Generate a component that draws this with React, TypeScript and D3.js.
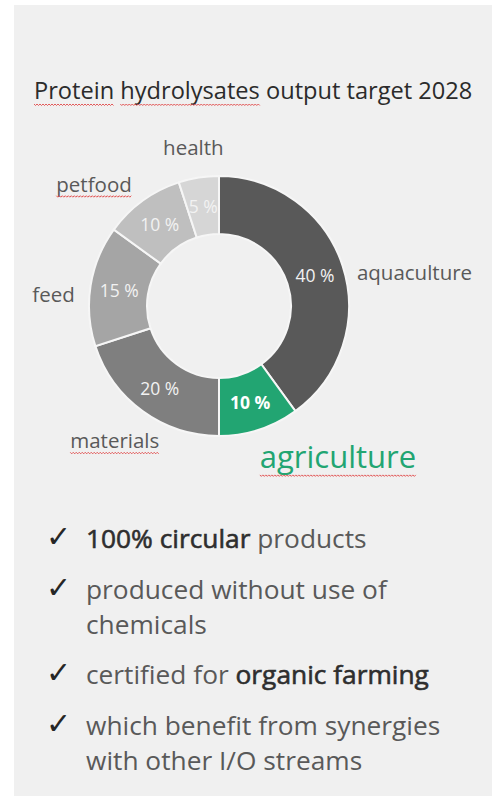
import React, { useEffect, useRef } from 'react';
import * as d3 from 'd3';

const categories = ['aquaculture', 'agriculture', 'materials', 'feed', 'petfood', 'health'];
const shares = [40, 10, 20, 15, 10, 5];
const sliceColors = ['#595959', '#22a572', '#7f7f7f', '#a5a5a5', '#bfbfbf', '#d6d6d6'];
const chartTitle = ['Protein', 'hydrolysates', 'output target 2028'];
const bulletLines = [
  [[{ t: '100% circular', b: true }, { t: ' products', b: false }]],
  [[{ t: 'produced without use of', b: false }], [{ t: 'chemicals', b: false }]],
  [[{ t: 'certified for ', b: false }, { t: 'organic farming', b: true }]],
  [[{ t: 'which benefit from synergies', b: false }], [{ t: 'with other I/O streams', b: false }]],
];

const W = 492;
const H = 796;
const FONT = "'Open Sans', 'Noto Sans', sans-serif";
const cx = 219;
const cy = 306;
const rOuter = 130;
const rInner = 72;
const rLabel = 145;

// label layout (style, not data)
const labelLayout: Record<string, { anchor: string; dx: number; dy: number; size: number; color: string; spell?: boolean }> = {
  aquaculture: { anchor: 'start', dx: 0, dy: 19, size: 20.5, color: '#595959' },
  agriculture: { anchor: 'start', dx: -4, dy: 24, size: 31, color: '#22a572', spell: true },
  materials: { anchor: 'middle', dx: -19, dy: 25, size: 20.5, color: '#595959', spell: true },
  feed: { anchor: 'end', dx: -1, dy: 19, size: 20.5, color: '#595959' },
  petfood: { anchor: 'end', dx: -2, dy: 3, size: 20.5, color: '#595959', spell: true },
  health: { anchor: 'middle', dx: -3, dy: -8, size: 20.5, color: '#595959' },
};

export default function App() {
  const svgRef = useRef<SVGSVGElement>(null);
  const pie = d3.pie<number>().sort(null).value((d) => d);
  const arcs = pie(shares);
  const arc = d3.arc<d3.PieArcDatum<number>>().innerRadius(rInner).outerRadius(rOuter);
  const labelArc = d3.arc<d3.PieArcDatum<number>>().innerRadius(rLabel).outerRadius(rLabel);

  useEffect(() => {
    const svg = d3.select(svgRef.current);
    svg.selectAll('.wave').remove();
    svg.selectAll<SVGGraphicsElement, unknown>('.spell').each(function () {
      const el = this as SVGGraphicsElement;
      const bb = el.getBBox();
      const host = el.tagName === 'tspan' ? el.parentNode!.parentNode : el.parentNode;
      const yb = bb.y + bb.height - 1.5;
      const pts: [number, number][] = [];
      for (let x = bb.x, k = 0; x <= bb.x + bb.width; x += 1.5, k++) pts.push([x, yb + (k % 2 ? 1 : -0.5)]);
      d3.select(host as Element)
        .append('path')
        .attr('class', 'wave')
        .attr('d', d3.line()(pts) || '')
        .attr('fill', 'none')
        .attr('stroke', '#e04848')
        .attr('stroke-width', 0.9);
    });
  }, []);

  const bulletY0 = 548;
  const lineH = 35;
  const bulletGap = 50.5;
  let y = bulletY0;
  const bulletRows: { y: number; parts: { t: string; b: boolean }[]; first: boolean }[] = [];
  bulletLines.forEach((lines) => {
    lines.forEach((parts, i) => {
      bulletRows.push({ y, parts, first: i === 0 });
      y += i < lines.length - 1 ? lineH : 0;
    });
    y += bulletGap;
  });

  return (
    <div style={{ position: 'fixed', left: 0, top: 0 }}>
      <svg ref={svgRef} width={W} height={H} style={{ display: 'block', fontFamily: FONT }}>
        <rect x={0} y={0} width={W} height={H} fill="#ffffff" />
        <rect x={14} y={5} width={W - 14} height={H - 5} fill="#f0f0f0" />
        <g>
          <text x={34} y={99} fontSize={23.6} fill="#2b2b2b">
            <tspan className="spell">{chartTitle[0]}</tspan>
            <tspan> </tspan>
            <tspan className="spell">{chartTitle[1]}</tspan>
            <tspan>{' ' + chartTitle[2]}</tspan>
          </text>
        </g>
        <g transform={`translate(${cx},${cy})`}>
          {arcs.map((a, i) => (
            <path key={categories[i]} d={arc(a) || ''} fill={sliceColors[i]} stroke="#f6f6f6" strokeWidth={2} />
          ))}
          {arcs.map((a, i) => {
            const [x, yy] = arc.centroid(a);
            const isAgri = categories[i] === 'agriculture';
            return (
              <text
                key={'p' + i}
                x={x}
                y={yy}
                textAnchor="middle"
                dominantBaseline="central"
                fontSize={17.5}
                fontWeight={isAgri ? 700 : 400}
                fill={isAgri ? '#ffffff' : '#f2f2f2'}
              >
                {shares[i] + ' %'}
              </text>
            );
          })}
          {arcs.map((a, i) => {
            const [x, yy] = labelArc.centroid(a);
            const L = labelLayout[categories[i]];
            return (
              <text
                key={'l' + i}
                className={L.spell ? 'spell' : undefined}
                x={x + L.dx}
                y={yy + L.dy}
                textAnchor={L.anchor as any}
                fontSize={L.size}
                fill={L.color}
              >
                {categories[i]}
              </text>
            );
          })}
        </g>
        {bulletRows.map((r, k) => (
          <g key={k}>
            {r.first && (
              <text x={46} y={r.y - 1} fontSize={30} fill="#262626" fontFamily="'DejaVu Sans', sans-serif">
                ✓
              </text>
            )}
            <text x={86} y={r.y} fontSize={26.3} fill="#595959">
              {r.parts.map((p, j) => (
                <tspan
                  key={j}
                  fill={p.b ? '#2e2e2e' : '#595959'}
                  stroke={p.b ? '#2e2e2e' : 'none'}
                  strokeWidth={p.b ? 0.6 : 0}
                >
                  {p.t}
                </tspan>
              ))}
            </text>
          </g>
        ))}
      </svg>
    </div>
  );
}
